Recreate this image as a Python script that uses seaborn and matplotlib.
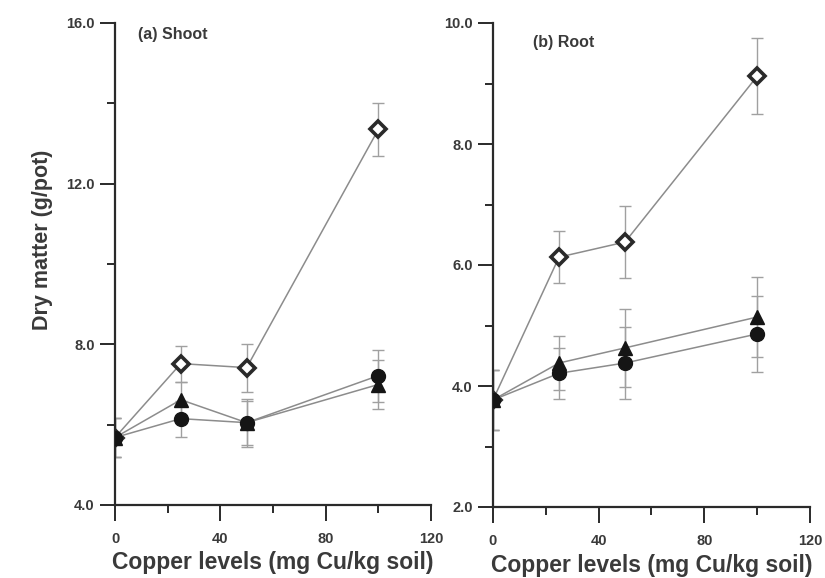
import numpy as np
import pandas as pd
import matplotlib
matplotlib.use("Agg")
import matplotlib.pyplot as plt
import seaborn as sns

cu = [0, 25, 50, 100]

shoot_diamond = [5.68, 7.52, 7.42, 13.35]
shoot_triangle = [5.68, 6.62, 6.05, 7.00]
shoot_circle = [5.68, 6.15, 6.05, 7.22]
shoot_diamond_err = [0.48, 0.45, 0.60, 0.65]
shoot_triangle_err = [0.48, 0.45, 0.60, 0.60]
shoot_circle_err = [0.48, 0.45, 0.55, 0.65]

root_diamond = [3.77, 6.13, 6.38, 9.12]
root_triangle = [3.77, 4.38, 4.63, 5.14]
root_circle = [3.77, 4.21, 4.38, 4.86]
root_diamond_err = [0.50, 0.43, 0.60, 0.63]
root_triangle_err = [0.50, 0.45, 0.64, 0.66]
root_circle_err = [0.50, 0.42, 0.60, 0.63]

series_names = ["diamond", "triangle", "circle"]

sns.set_style("ticks")
plt.rcParams['font.family'] = ['Liberation Sans', 'DejaVu Sans']

W, H = 825, 578
fig = plt.figure(figsize=(W / 100, H / 100), dpi=100)
axL = fig.add_axes([115/W, 1-505/H, (431-115)/W, (505-23)/H])
axR = fig.add_axes([493/W, 1-507/H, (810-493)/W, (507-23)/H])

styles = {
    "diamond": dict(marker="D", mfc="white", mec="#2a2a2a", ms=8, mew=2.6),
    "triangle": dict(marker="^", mfc="#151515", mec="#151515", ms=9.5, mew=1),
    "circle": dict(marker="o", mfc="#151515", mec="#151515", ms=10, mew=1),
}
line_col = "#8c8c8c"
text_col = "#3a3a3a"

def draw(ax, vals, errs, ylim, yticks, yminor):
    for name, v, e in zip(series_names, vals, errs):
        df = pd.DataFrame({"cu": cu, "dm": v})
        ax.errorbar(cu, v, yerr=e, fmt="none", ecolor="#a0a0a0", elinewidth=1.0,
                    capsize=4.5, capthick=1.0, zorder=2)
        sns.lineplot(data=df, x="cu", y="dm", ax=ax, color=line_col, linewidth=1.1,
                     zorder=3, **styles[name])
    ax.set_xlim(0, 120)
    ax.set_ylim(*ylim)
    ax.set_xticks([0, 40, 80, 120])
    ax.set_xticks([20, 60, 100], minor=True)
    ax.set_yticks(yticks)
    ax.set_yticks(yminor, minor=True)
    ax.set_yticklabels([f"{t:.1f}" for t in yticks])
    ax.tick_params(axis="x", which="major", length=11.5, width=1.4, colors="#2a2a2a",
                   labelcolor=text_col, labelsize=10.5, pad=8)
    ax.tick_params(axis="x", which="minor", length=5.8, width=1.4, colors="#2a2a2a")
    ax.tick_params(axis="y", which="major", length=10.5, width=1.4, colors="#2a2a2a",
                   labelcolor=text_col, labelsize=10.5, pad=4)
    ax.tick_params(axis="y", which="minor", length=5.5, width=1.4, colors="#2a2a2a")
    for lab in ax.get_xticklabels() + ax.get_yticklabels():
        lab.set_fontweight("bold")
    for s in ["top", "right"]:
        ax.spines[s].set_visible(False)
    for s in ["left", "bottom"]:
        ax.spines[s].set_linewidth(1.6)
        ax.spines[s].set_color("#2a2a2a")
    ax.set_xlabel("Copper levels (mg Cu/kg soil)", fontsize=16.5, fontweight="bold",
                  color=text_col)
    ax.xaxis.set_label_coords(0.5, -(563 - 505) / 482, transform=ax.transAxes)
    ax.xaxis.label.set_va("center")
    ax.set_ylabel("")

draw(axL, [shoot_diamond, shoot_triangle, shoot_circle],
     [shoot_diamond_err, shoot_triangle_err, shoot_circle_err],
     (4, 16), [4, 8, 12, 16], [6, 10, 14])
draw(axR, [root_diamond, root_triangle, root_circle],
     [root_diamond_err, root_triangle_err, root_circle_err],
     (2, 10), [2, 4, 6, 8, 10], [3, 5, 7, 9])

fig.text(138/W, 1-34/H, "(a) Shoot", fontsize=11.5, fontweight="bold", color=text_col,
         va="center", ha="left")
fig.text(533/W, 1-42/H, "(b) Root", fontsize=11.5, fontweight="bold", color=text_col,
         va="center", ha="left")

axL.set_ylabel("Dry matter (g/pot)", fontsize=15.5, fontweight="bold", color=text_col)
axL.yaxis.set_label_coords(-(115 - 42) / 316, 1 - (240 - 23) / 482)
axL.yaxis.label.set_va("center")

fig.savefig("out.png", dpi=100)
